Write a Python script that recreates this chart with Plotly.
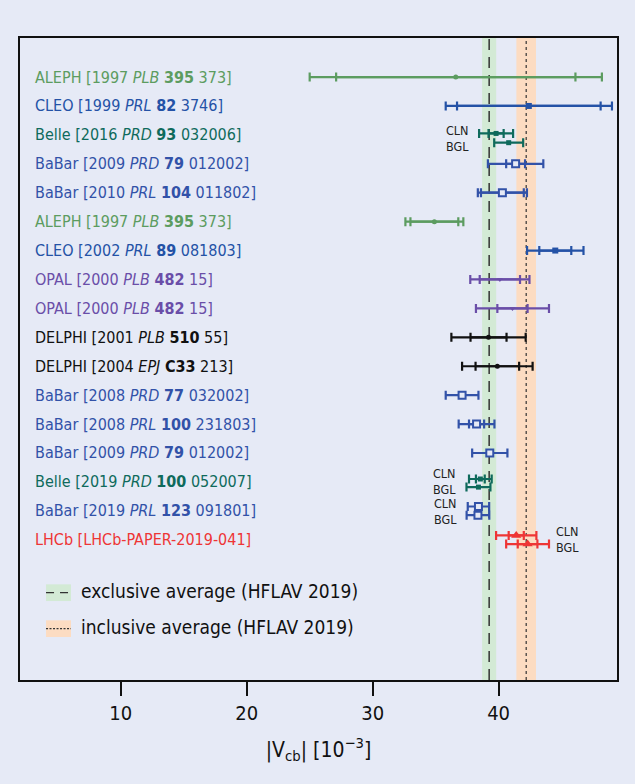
import plotly.graph_objects as go

# ---------------- data ----------------
row_experiment = ["ALEPH", "CLEO", "Belle", "BaBar", "BaBar", "ALEPH", "CLEO", "OPAL", "OPAL",
                  "DELPHI", "DELPHI", "BaBar", "BaBar", "BaBar", "Belle", "BaBar", "LHCb"]
row_year = ["1997", "1999", "2016", "2009", "2010", "1997", "2002", "2000", "2000",
            "2001", "2004", "2008", "2008", "2009", "2019", "2019", ""]
row_journal = ["PLB", "PRL", "PRD", "PRD", "PRL", "PLB", "PRL", "PLB", "PLB",
               "PLB", "EPJ", "PRD", "PRL", "PRD", "PRD", "PRL", ""]
row_volume = ["395", "82", "93", "79", "104", "395", "89", "482", "482",
              "510", "C33", "77", "100", "79", "100", "123", ""]
row_page = ["373", "3746", "032006", "012002", "011802", "373", "081803", "15", "15",
            "55", "213", "032002", "231803", "012002", "052007", "091801", ""]
row_report = [""] * 16 + ["LHCb-PAPER-2019-041"]

meas_row = [0, 1, 2, 2, 3, 4, 5, 6, 7, 8, 9, 10, 11, 12, 13, 14, 14, 15, 15, 16, 16]
meas_fit = ["", "", "CLN", "BGL", "", "", "", "", "", "", "", "", "", "", "",
            "CLN", "BGL", "CLN", "BGL", "CLN", "BGL"]
meas_value = [36.6, 42.4, 39.8, 40.8, 41.35, 40.3, 34.9, 44.5, 40.1, 41.1, 39.2, 39.9,
              37.1, 38.25, 39.3, 38.55, 38.4, 38.4, 38.36, 41.4, 42.3]
meas_stat = [9.5, 5.7, 0.6, None, 0.75, 1.7, 1.9, 1.27, 1.6, 1.2, 1.43, 1.73,
             None, 0.6, None, 0.35, None, None, None, 0.6, 0.78]
meas_total = [11.6, 6.6, 1.35, 1.15, 2.2, 1.95, 2.3, 2.24, 2.35, 2.9, 2.95, 2.8,
              1.3, 1.42, 1.4, 0.9, 0.95, 0.85, 0.9, 1.6, 1.7]

excl_avg, excl_err = 39.25, 0.56
incl_avg, incl_err = 42.19, 0.78

x_ticks = [10, 20, 30, 40]

# ---------------- styles ----------------
BG = "#e6eaf6"
FONT = "DejaVu Sans Condensed, Liberation Sans Narrow, sans-serif"
exp_color = {"ALEPH": "#5c9c60", "CLEO": "#2452a6", "Belle": "#0f6a5c", "BaBar": "#3252a8",
             "OPAL": "#6a4ea8", "DELPHI": "#111111", "LHCb": "#ee3535"}
exp_marker = {"ALEPH": ("circle", 5, True), "CLEO": ("square", 6, True),
              "Belle": ("square", 5, True), "BaBar": ("square", 7, False),
              "OPAL": ("triangle-down", 5, True), "DELPHI": ("circle", 5, True),
              "LHCb": ("triangle-up", 9, True)}
fit_offset = {"": 0.0, "CLN": -0.15, "BGL": 0.15}
row_fit_offset = {2: {"CLN": -0.05, "BGL": 0.27}, 14: {"CLN": -0.1, "BGL": 0.18}}
# vertical offset of the stacked CLN/BGL label block, per row
row_label_offset = {2: 0.12, 14: 0.0, 15: 0.01, 16: -0.01}
label_side = {2: "left", 14: "left", 15: "left", 16: "right"}


def ypos(r, fit):
    if r in row_fit_offset and fit in row_fit_offset[r]:
        return r + row_fit_offset[r][fit]
    return r + fit_offset[fit]


fig = go.Figure()

# averages bands and lines
fig.add_vrect(x0=excl_avg - excl_err, x1=excl_avg + excl_err, fillcolor="#d3ead5",
              line_width=0, layer="below")
fig.add_vrect(x0=incl_avg - incl_err, x1=incl_avg + incl_err, fillcolor="#fcdcc2",
              line_width=0, layer="below")
fig.add_vline(x=excl_avg, line=dict(color="#333333", width=1.5, dash="11px,7px"), layer="below")
fig.add_vline(x=incl_avg, line=dict(color="#333333", width=1.2, dash="3px,3px"), layer="below")

# measurements grouped by experiment
for exp in exp_color:
    idx = [i for i in range(len(meas_row)) if row_experiment[meas_row[i]] == exp]
    if not idx:
        continue
    col = exp_color[exp]
    sidx = [i for i in idx if meas_stat[i] is not None]
    if sidx:
        fig.add_trace(go.Scatter(
            x=[meas_value[i] for i in sidx],
            y=[ypos(meas_row[i], meas_fit[i]) for i in sidx],
            mode="markers", marker=dict(size=4, color=col, opacity=0),
            error_x=dict(type="data", array=[meas_stat[i] for i in sidx],
                         color=col, thickness=2.2, width=4.5),
            hoverinfo="skip"))
    sym, size, filled = exp_marker[exp]
    marker = dict(symbol=sym, size=size, color=col if filled else BG,
                  line=dict(color=col, width=2 if not filled else 0))
    fig.add_trace(go.Scatter(
        x=[meas_value[i] for i in idx],
        y=[ypos(meas_row[i], meas_fit[i]) for i in idx],
        mode="markers", marker=marker,
        error_x=dict(type="data", array=[meas_total[i] for i in idx],
                     color=col, thickness=2.2, width=4.5)))

# row labels
for r, exp in enumerate(row_experiment):
    if row_report[r]:
        txt = f"{exp} [{row_report[r]}]"
    else:
        txt = (f"{exp} [{row_year[r]} <i>{row_journal[r]}</i> "
               f"<b>{row_volume[r]}</b> {row_page[r]}]")
    fig.add_annotation(x=0.022, xref="paper", y=r, yref="y", text=txt, showarrow=False,
                       xanchor="left", yanchor="middle",
                       font=dict(family=FONT, size=16, color=exp_color[exp]))

# CLN / BGL labels (stacked block per row)
for r, side in label_side.items():
    idx = [i for i in range(len(meas_row)) if meas_row[i] == r and meas_fit[i]]
    txt = "<br>".join(meas_fit[i] for i in idx)
    yl = r + row_label_offset[r]
    if side == "left":
        xe = min(meas_value[j] - meas_total[j] for j in idx)
        fig.add_annotation(x=xe, y=yl, text=txt, showarrow=False, align="left",
                           xanchor="right", yanchor="middle", xshift=-8,
                           font=dict(family=FONT, size=12.5, color="#222222"))
    else:
        xe = max(meas_value[j] + meas_total[j] for j in idx)
        fig.add_annotation(x=xe, y=yl, text=txt, showarrow=False, align="left",
                           xanchor="left", yanchor="middle", xshift=5,
                           font=dict(family=FONT, size=12.5, color="#222222"))

# legend (drawn manually)
leg = [("exclusive average (HFLAV 2019)", "#d3ead5", "8px,6px", 0.136),
       ("inclusive average (HFLAV 2019)", "#fcdcc2", "2px,1.5px", 0.080)]
for text, fill, dash, yp in leg:
    fig.add_shape(type="rect", xref="paper", yref="paper", x0=0.0436, x1=0.0854,
                  y0=yp - 0.013, y1=yp + 0.013, fillcolor=fill, line_width=0)
    fig.add_shape(type="line", xref="paper", yref="paper", x0=0.0436, x1=0.0854,
                  y0=yp, y1=yp, line=dict(color="#333333", width=1.3, dash=dash))
    fig.add_annotation(x=0.099, xref="paper", y=yp + 0.003, yref="paper", text=text,
                       showarrow=False, xanchor="left", yanchor="middle",
                       font=dict(family=FONT, size=19, color="#111111"))

fig.update_layout(
    width=635, height=784,
    margin=dict(l=20, r=18, t=38, b=104),
    paper_bgcolor=BG, plot_bgcolor=BG,
    showlegend=False,
    font=dict(family=FONT, color="#111111"),
    xaxis=dict(range=[2, 49.4], tickvals=x_ticks, ticks="outside", ticklen=14,
               tickwidth=1.5, tickcolor="#111111", showline=True, linewidth=2,
               linecolor="#111111", mirror=True, showgrid=False, zeroline=False,
               tickfont=dict(size=20, family=FONT),
               title=dict(text="|V<sub>cb</sub>| [10<sup>−3</sup>]",
                          font=dict(size=21, family=FONT), standoff=18)),
    yaxis=dict(range=[20.85, -1.35], showticklabels=False, showgrid=False,
               zeroline=False, showline=True, linewidth=2, linecolor="#111111",
               mirror=True, ticks=""),
)

fig.write_html("out.html", config={"displayModeBar": False},
               post_script="document.body.style.margin='0';document.body.style.overflow='hidden';")
